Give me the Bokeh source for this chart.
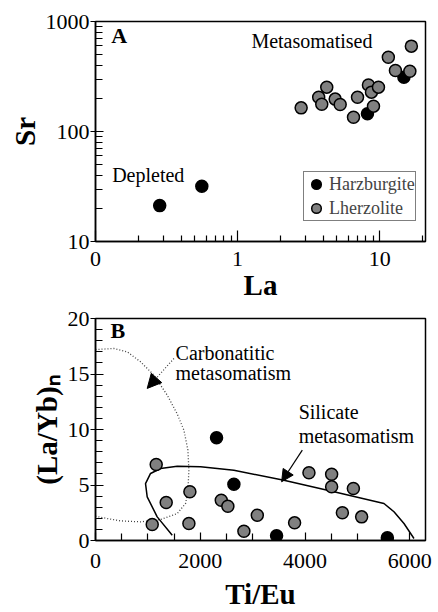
from bokeh.plotting import figure
from bokeh.layouts import column
from bokeh.models import (FixedTicker, CustomJSTickFormatter, Legend, LegendItem,
                          Label, Arrow, NormalHead, Range1d)
from bokeh.embed import file_html
from bokeh.resources import INLINE

# ---------------- data: panel A (La vs Sr, log-log) ----------------
harz_la = [0.283, 0.56, 8.2, 14.8]
harz_sr = [21.2, 31.8, 145, 312]
lherz_la = [2.8, 3.72, 4.24, 3.91, 4.86, 5.27, 6.54, 6.98, 8.33, 8.75, 9.04, 9.8, 11.5, 12.9, 16.3, 16.7]
lherz_sr = [164, 205, 253, 177, 197, 176, 135, 205, 265, 228, 170, 253, 474, 359, 353, 597]

# ---------------- data: panel B (Ti/Eu vs (La/Yb)n) ----------------
harz_tieu = [2311, 2642, 3457, 5572]
harz_layb = [9.25, 5.07, 0.42, 0.24]
lherz_tieu = [1159, 1350, 1083, 1802, 1783, 2401, 2527, 2833, 3089, 3801, 4075, 4508, 4508, 4713, 4923, 5081]
lherz_layb = [6.85, 3.42, 1.44, 4.39, 1.53, 3.63, 3.09, 0.84, 2.28, 1.59, 6.1, 5.97, 4.84, 2.5, 4.68, 2.13]

# field boundaries (Ti/Eu, (La/Yb)n)
carb_tieu = [0, 350, 605, 860, 1114, 1369, 1560, 1688, 1764, 1783, 1764, 1719, 1560, 1242, 860, 478, 223, 0]
carb_layb = [17.2, 17.3, 17.0, 16.1, 14.9, 13.1, 11.4, 9.94, 8.14, 6.33, 4.53, 3.33, 2.43, 1.89, 1.68, 1.77, 1.98, 2.19]
sil_tieu = [1465, 1178, 987, 955, 1051, 1242, 1560, 2006, 2642, 3597, 4552, 5507, 5698, 5889, 6080]
sil_layb = [0.48, 2.13, 3.93, 5.13, 6.04, 6.49, 6.69, 6.64, 6.33, 5.43, 4.39, 3.33, 2.59, 1.53, 0.18]

# arrows (start -> tip)
carb_arrow = [1497, 16.4, 987, 13.7]
sil_arrow = [3948, 8.14, 3553, 5.29]

x_ticks_a = [0.1, 1, 10]
y_ticks_a = [10, 100, 1000]
x_ticks_b = [0, 2000, 4000, 6000]
y_ticks_b = [0, 5, 10, 15, 20]

FONT = "Liberation Serif"
GRAY = "#808080"


def style_axes(p):
    p.outline_line_color = "black"
    p.outline_line_width = 1.5
    p.grid.visible = False
    for ax in (p.xaxis[0], p.yaxis[0]):
        ax.axis_line_color = "black"
        ax.axis_line_width = 1.5
        ax.major_tick_line_color = "black"
        ax.minor_tick_line_color = "black"
        ax.major_tick_line_width = 1.2
        ax.minor_tick_line_width = 1.2
        ax.major_label_text_font = FONT
        ax.major_label_text_font_size = "22px"
        ax.major_label_text_color = "black"
        ax.axis_label_text_font = FONT
        ax.axis_label_text_font_style = "bold"
        ax.axis_label_text_font_size = "29px"
        ax.axis_label_text_color = "black"
        ax.axis_label_standoff = 2
    p.xaxis.major_tick_in = 11
    p.xaxis.major_tick_out = 0
    p.xaxis.minor_tick_in = 6
    p.xaxis.minor_tick_out = 0
    p.xaxis.major_label_standoff = 10
    p.xaxis.axis_label_standoff = 0
    p.yaxis.major_tick_in = 8
    p.yaxis.major_tick_out = 5
    p.yaxis.minor_tick_in = 7
    p.yaxis.minor_tick_out = 0
    p.yaxis.major_label_standoff = 1


# ---------------- panel A ----------------
pa = figure(x_axis_type="log", y_axis_type="log",
            frame_width=330, frame_height=220,
            min_border_left=95, min_border_right=13, min_border_top=21, min_border_bottom=59,
            x_range=Range1d(0.1, 21), y_range=Range1d(10, 1000),
            output_backend="svg", toolbar_location=None,
            x_axis_label="La", y_axis_label="Sr")
style_axes(pa)
pa.xaxis.ticker = FixedTicker(ticks=x_ticks_a,
                              minor_ticks=[0.2, 0.3, 0.4, 0.5, 0.6, 0.7, 0.8, 0.9,
                                           2, 3, 4, 5, 6, 7, 8, 9, 20])
pa.yaxis.ticker = FixedTicker(ticks=y_ticks_a,
                              minor_ticks=[20, 30, 40, 50, 60, 70, 80, 90,
                                           200, 300, 400, 500, 600, 700, 800, 900])
pa.xaxis.formatter = CustomJSTickFormatter(code="return tick < 0.5 ? '0' : tick.toFixed(0);")
pa.yaxis.formatter = CustomJSTickFormatter(code="return tick.toFixed(0);")

ra1 = pa.scatter(harz_la, harz_sr, size=12, fill_color="black", line_color="black", line_width=1.5)
ra2 = pa.scatter(lherz_la, lherz_sr, size=12, fill_color=GRAY, line_color="black", line_width=1.5)

legend = Legend(items=[LegendItem(label="Harzburgite", renderers=[ra1]),
                       LegendItem(label="Lherzolite", renderers=[ra2])],
                location=(208, 20), border_line_color="black", border_line_width=1.2,
                label_text_font=FONT, label_text_font_size="18px",
                glyph_width=24, glyph_height=24, label_standoff=1,
                padding=0, spacing=0, label_height=20, margin=0,
                background_fill_alpha=1)
pa.add_layout(legend)

for txt, x, y, sty, base, size in [("A", 0.129, 959, "bold", "top", "22px"),
                                    ("Metasomatised", 1.25, 658, "normal", "middle", "20px"),
                                    ("Depleted", 0.131, 40.6, "normal", "middle", "20px")]:
    pa.add_layout(Label(x=x, y=y, text=txt, text_font=FONT, text_font_style=sty,
                        text_font_size=size, text_baseline=base, text_align="left",
                        text_color="black"))

# ---------------- panel B ----------------
pb = figure(frame_width=330, frame_height=222,
            min_border_left=95, min_border_right=13, min_border_top=15, min_border_bottom=75,
            x_range=Range1d(0, 6300), y_range=Range1d(0, 20),
            output_backend="svg", toolbar_location=None,
            x_axis_label="Ti/Eu", y_axis_label="(La/Yb)\u2099")
style_axes(pb)
pb.xaxis.ticker = FixedTicker(ticks=x_ticks_b,
                              minor_ticks=[500, 1000, 1500, 2500, 3000, 3500, 4500, 5000, 5500])
pb.xaxis.major_tick_in = 8
pb.xaxis.minor_tick_in = 7
pb.xaxis.major_label_standoff = 13
pb.xaxis.axis_label_standoff = 7
pb.yaxis.ticker = FixedTicker(ticks=y_ticks_b,
                              minor_ticks=[1, 2, 3, 4, 6, 7, 8, 9, 11, 12, 13, 14, 16, 17, 18, 19])
pb.yaxis.formatter = CustomJSTickFormatter(code="return tick.toFixed(0);")
pb.xaxis.formatter = CustomJSTickFormatter(code="return tick.toFixed(0);")

pb.line(carb_tieu, carb_layb, line_color="#444444", line_width=1.3, line_dash="1 2")
pb.line(sil_tieu, sil_layb, line_color="black", line_width=1.5)

pb.scatter(harz_tieu, harz_layb, size=12, fill_color="black", line_color="black", line_width=1.5)
pb.scatter(lherz_tieu, lherz_layb, size=12, fill_color=GRAY, line_color="black", line_width=1.5)

pb.add_layout(Arrow(end=NormalHead(size=14, fill_color="black", line_color="black"),
                    x_start=carb_arrow[0], y_start=carb_arrow[1],
                    x_end=carb_arrow[2], y_end=carb_arrow[3],
                    line_dash="1 2", line_width=1.3, line_color="#444444"))
pb.add_layout(Arrow(end=NormalHead(size=12, fill_color="black", line_color="black"),
                    x_start=sil_arrow[0], y_start=sil_arrow[1],
                    x_end=sil_arrow[2], y_end=sil_arrow[3],
                    line_width=1.2, line_color="black"))

for txt, x, y, sty, base, size in [("B", 287, 20.05, "bold", "top", "22px"),
                                    ("Carbonatitic", 1528, 16.85, "normal", "middle", "20px"),
                                    ("metasomatism", 1528, 15.05, "normal", "middle", "20px"),
                                    ("Silicate", 3878, 11.55, "normal", "middle", "20px"),
                                    ("metasomatism", 3878, 9.45, "normal", "middle", "20px")]:
    pb.add_layout(Label(x=x, y=y, text=txt, text_font=FONT, text_font_style=sty,
                        text_font_size=size, text_baseline=base, text_align="left",
                        text_color="black"))

layout = column(pa, pb, spacing=0)
open("out.html", "w").write(file_html(layout, INLINE))
